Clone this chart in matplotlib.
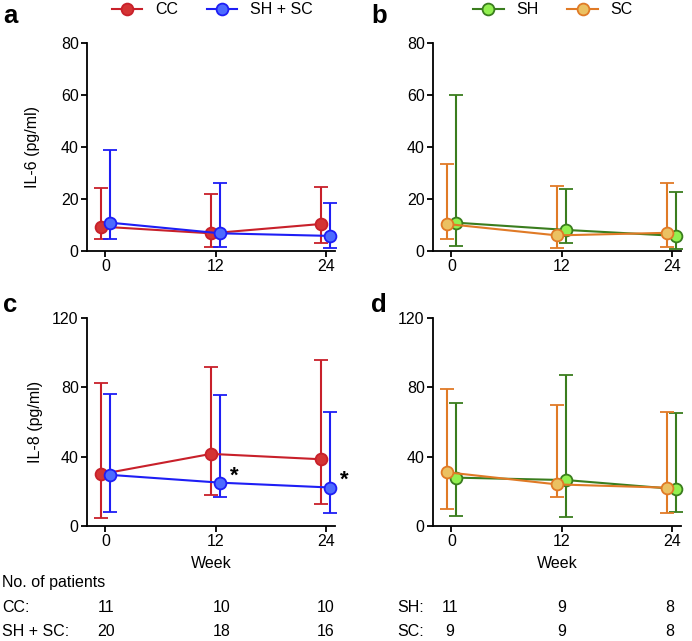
import numpy as np
import matplotlib
matplotlib.use('Agg')
import matplotlib.pyplot as plt
from matplotlib.lines import Line2D

plt.rcParams['font.family'] = ['Liberation Sans', 'DejaVu Sans']

weeks = np.array([0, 12, 24])

# IL-6 (pg/ml): mean, lower and upper error ends
il6_cc = [9.4, 6.8, 10.4]
il6_cc_lo = [4.5, 1.7, 3.0]
il6_cc_hi = [24.4, 21.8, 24.8]
il6_shsc = [10.9, 6.8, 5.8]
il6_shsc_lo = [4.7, 1.7, 1.0]
il6_shsc_hi = [38.8, 26.0, 18.6]
il6_sh = [10.9, 8.1, 5.8]
il6_sh_lo = [1.9, 2.9, 0.9]
il6_sh_hi = [60.1, 23.8, 22.7]
il6_sc = [10.4, 6.0, 7.0]
il6_sc_lo = [4.5, 1.0, 1.7]
il6_sc_hi = [33.3, 25.1, 26.0]

# IL-8 (pg/ml)
il8_cc = [29.9, 41.6, 38.5]
il8_cc_lo = [4.8, 17.9, 12.5]
il8_cc_hi = [82.5, 91.5, 95.7]
il8_shsc = [29.5, 25.0, 22.2]
il8_shsc_lo = [8.1, 16.6, 7.7]
il8_shsc_hi = [76.3, 75.5, 65.9]
il8_sh = [27.9, 26.5, 21.3]
il8_sh_lo = [6.0, 5.2, 8.1]
il8_sh_hi = [71.1, 87.4, 65.1]
il8_sc = [31.0, 24.0, 22.1]
il8_sc_lo = [9.6, 16.5, 7.7]
il8_sc_hi = [79.3, 69.6, 65.5]

# number of patients
n_cc = [11, 10, 10]
n_shsc = [20, 18, 16]
n_sh = [11, 9, 8]
n_sc = [9, 9, 8]

# significance marks on SH + SC in panel c
star_weeks = [12, 24]

styles = {
    'CC': dict(line='#C8202A', face='#D43434'),
    'SH + SC': dict(line='#1E1EF5', face='#4D6BFF'),
    'SH': dict(line='#3A7D1E', face='#92F050'),
    'SC': dict(line='#E07A26', face='#EBC162'),
}

W, H = 692, 641
fig = plt.figure(figsize=(W / 100, H / 100), dpi=100)
FS = 11.5


def px_axes(left, top, right, bottom):
    return fig.add_axes([left / W, 1 - bottom / H, (right - left) / W, (bottom - top) / H])


def draw(ax, name, mean, lo, hi, dx):
    st = styles[name]
    mean = np.asarray(mean)
    yerr = [mean - np.asarray(lo), np.asarray(hi) - mean]
    ax.errorbar(weeks + dx, mean, yerr=yerr, fmt='-o', color=st['line'],
                mfc=st['face'], mec=st['line'], ms=8.5, mew=1.3, lw=1.5,
                elinewidth=1.5, capsize=5, capthick=1.5, clip_on=False)


def style(ax, ymax, ystep):
    ax.set_xlim(-2, 25)
    ax.set_ylim(0, ymax)
    ax.set_xticks(weeks)
    ax.set_yticks(np.arange(0, ymax + 1, ystep))
    for s in ['top', 'right']:
        ax.spines[s].set_visible(False)
    for s in ['left', 'bottom']:
        ax.spines[s].set_linewidth(1.3)
    ax.tick_params(width=1.3, length=4, labelsize=FS, pad=2)


ax_a = px_axes(87, 43, 335, 251)
ax_b = px_axes(433, 43, 681, 251)
ax_c = px_axes(87, 318, 335, 526)
ax_d = px_axes(433, 318, 681, 526)

off = 0.5
draw(ax_a, 'CC', il6_cc, il6_cc_lo, il6_cc_hi, -off)
draw(ax_a, 'SH + SC', il6_shsc, il6_shsc_lo, il6_shsc_hi, off)
draw(ax_b, 'SH', il6_sh, il6_sh_lo, il6_sh_hi, off)
draw(ax_b, 'SC', il6_sc, il6_sc_lo, il6_sc_hi, -off)
draw(ax_c, 'CC', il8_cc, il8_cc_lo, il8_cc_hi, -off)
draw(ax_c, 'SH + SC', il8_shsc, il8_shsc_lo, il8_shsc_hi, off)
draw(ax_d, 'SH', il8_sh, il8_sh_lo, il8_sh_hi, off)
draw(ax_d, 'SC', il8_sc, il8_sc_lo, il8_sc_hi, -off)

style(ax_a, 80, 20)
style(ax_b, 80, 20)
style(ax_c, 120, 40)
style(ax_d, 120, 40)

ax_a.set_ylabel('IL-6 (pg/ml)', fontsize=FS)
ax_a.yaxis.set_label_coords(-0.19, 0.5)
ax_c.set_ylabel('IL-8 (pg/ml)', fontsize=FS)
ax_c.yaxis.set_label_coords(-0.177, 0.5)
ax_c.set_xlabel('Week', fontsize=FS, labelpad=5)
ax_d.set_xlabel('Week', fontsize=FS, labelpad=5)

# asterisks next to SH + SC points in panel c
for wk in star_weeks:
    i = list(weeks).index(wk)
    ax_c.text(wk + 2.0, il8_shsc[i] + 4, '*', fontsize=16, fontweight='bold',
              ha='center', va='center', clip_on=False)

# panel letters
for lab, x, y in [('a', 3, 16), ('b', 371, 16), ('c', 3, 305), ('d', 371, 305)]:
    fig.text(x / W, 1 - y / H, lab, fontsize=18.5, fontweight='bold', ha='left', va='center')


def handle(name):
    st = styles[name]
    return Line2D([], [], color=st['line'], marker='o', mfc=st['face'], mec=st['line'],
                  ms=8.5, mew=1.3, lw=1.5)


for names, cx in [(['CC', 'SH + SC'], 212), (['SH', 'SC'], 553)]:
    fig.legend([handle(n) for n in names], names, loc='center', ncol=2, frameon=False,
               bbox_to_anchor=(cx / W, 1 - 10 / H), fontsize=FS, handlelength=1.9,
               columnspacing=1.8, handletextpad=0.8, borderpad=0)

# patient numbers table
fig.text(2 / W, 1 - 583 / H, 'No. of patients', fontsize=FS, va='center')
rows = [('CC:', n_cc, 607, 2, [106, 222, 326]),
        ('SH + SC:', n_shsc, 632, 2, [106, 222, 326]),
        ('SH:', n_sh, 607, 397, [450, 562, 670]),
        ('SC:', n_sc, 632, 397, [450, 562, 670])]
for lab, vals, y, x0, xs in rows:
    fig.text(x0 / W, 1 - y / H, lab, fontsize=FS, va='center')
    for v, x in zip(vals, xs):
        fig.text(x / W, 1 - y / H, str(v), fontsize=FS, va='center', ha='center')

fig.savefig('out.png', dpi=100)
